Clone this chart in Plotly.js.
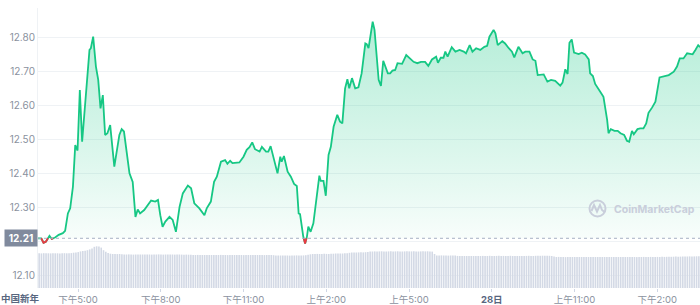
<!DOCTYPE html>
<html>
<head>
<meta charset="utf-8">
<script src="https://cdn.plot.ly/plotly-3.0.1.min.js"></script>
<style>
  html, body { margin: 0; padding: 0; background: #ffffff; }
  #chart { width: 700px; height: 305px; }
</style>
</head>
<body>
<div id="chart"></div>
<script>
// ---- data (minutes since the start of the 24h window) ----
const minutes = [0,7,12,17,25,30,38,45,54,59,65,70,76,81,86,91,96,104,112,115,120,126,131,136,141,146,151,157,166,177,182,187,199,206,212,217,222,231,246,255,261,266,271,277,286,293,300,308,315,326,333,340,351,362,367,376,383,389,398,407,412,418,423,438,447,454,460,466,472,482,487,496,501,506,512,521,527,530,535,543,550,557,563,567,570,577,581,585,588,593,599,603,612,615,621,626,632,637,643,651,657,662,668,673,677,683,690,697,704,712,715,719,728,732,741,746,751,761,766,771,777,782,792,801,808,817,825,833,842,849,857,866,870,876,882,886,891,900,908,917,926,931,939,945,953,962,971,977,982,991,995,1000,1010,1016,1024,1031,1036,1045,1054,1060,1069,1076,1082,1087,1100,1108,1116,1125,1136,1141,1147,1152,1156,1161,1166,1176,1183,1190,1198,1201,1207,1212,1223,1230,1238,1241,1246,1254,1261,1267,1275,1281,1286,1292,1296,1304,1310,1317,1323,1328,1336,1343,1352,1361,1372,1383,1390,1396,1404,1412,1419,1424,1430,1436,1440];

const price = [12.208,12.208,12.195,12.198,12.215,12.206,12.211,12.218,12.223,12.230,
12.281,12.296,12.360,12.482,12.466,12.644,12.492,12.615,12.762,12.767,
12.801,12.713,12.674,12.590,12.629,12.512,12.517,12.541,12.419,12.512,
12.529,12.522,12.399,12.374,12.271,12.293,12.281,12.291,12.319,12.316,
12.321,12.276,12.242,12.257,12.271,12.262,12.227,12.301,12.340,12.363,
12.355,12.311,12.296,12.276,12.296,12.316,12.374,12.389,12.433,12.438,
12.427,12.436,12.429,12.431,12.448,12.468,12.476,12.490,12.470,12.463,
12.477,12.463,12.463,12.479,12.443,12.399,12.448,12.433,12.450,12.404,
12.389,12.368,12.362,12.281,12.279,12.213,12.193,12.213,12.242,12.227,
12.252,12.301,12.392,12.377,12.377,12.333,12.453,12.477,12.536,12.571,
12.551,12.546,12.649,12.676,12.649,12.679,12.649,12.652,12.693,12.781,
12.779,12.767,12.845,12.821,12.674,12.656,12.730,12.693,12.693,12.701,
12.703,12.723,12.721,12.747,12.739,12.727,12.723,12.727,12.727,12.715,
12.734,12.742,12.724,12.739,12.739,12.757,12.742,12.770,12.757,12.762,
12.757,12.752,12.776,12.757,12.767,12.762,12.771,12.774,12.801,12.821,
12.811,12.776,12.788,12.781,12.767,12.757,12.740,12.771,12.752,12.757,
12.757,12.734,12.730,12.688,12.690,12.669,12.674,12.671,12.657,12.666,
12.705,12.691,12.783,12.793,12.754,12.750,12.754,12.749,12.734,12.693,
12.685,12.662,12.639,12.624,12.556,12.517,12.529,12.524,12.524,12.517,
12.512,12.495,12.492,12.524,12.514,12.529,12.531,12.531,12.546,12.577,
12.593,12.610,12.681,12.685,12.688,12.698,12.713,12.737,12.737,12.752,
12.749,12.749,12.762,12.776,12.770];

const openPrice = 12.208;   // reference (open) price, shown as 12.21

// volume per 5-minute interval (millions)
const volume = [
34.7,34.6,34.8,34.7,34.7,34.6,34.8,34.7,34.7,34.6,34.7,34.8,34.7,34.7,34.9,35.3,35.6,35.9,36.6,37.0,37.3,37.8,38.6,39.4,
41.2,41.7,41.6,40.4,37.8,36.2,35.1,34.3,34.0,34.1,33.9,34.0,33.8,33.6,33.5,33.6,33.5,33.4,33.5,33.6,33.5,33.5,33.4,33.5,
33.5,33.4,33.5,33.5,33.6,33.5,33.4,33.5,33.5,33.4,33.5,33.4,33.5,33.5,33.4,33.3,33.4,33.3,33.2,33.1,33.0,33.1,33.0,33.0,
33.0,33.1,33.0,33.0,32.9,33.0,33.0,33.1,33.0,33.0,32.9,33.0,33.0,33.0,33.1,33.0,33.0,32.9,33.0,33.0,33.0,33.1,33.0,33.0,
33.0,33.0,32.9,33.0,33.0,33.0,32.8,32.6,32.5,32.5,32.6,32.5,32.5,32.4,32.5,32.5,32.6,32.5,32.5,32.6,32.8,33.3,33.7,34.0,
34.0,34.1,34.0,34.0,34.2,34.1,34.0,34.2,34.3,34.5,34.6,34.5,34.5,34.7,34.8,35.2,35.5,35.6,35.5,35.6,35.7,35.6,35.8,36.1,
36.4,36.5,36.6,36.5,36.6,36.7,36.6,36.5,36.6,36.7,36.6,36.6,36.7,36.6,36.5,36.6,36.7,36.6,36.6,36.7,36.6,36.5,36.6,36.7,
36.6,36.7,36.6,36.4,34.0,32.6,32.5,32.6,32.5,32.5,32.4,32.5,32.5,32.4,32.1,32.0,32.1,32.0,32.0,32.1,32.0,32.0,32.1,32.0,
32.0,32.1,32.0,32.0,32.2,32.1,32.0,32.1,32.2,32.0,32.1,32.0,32.1,32.2,32.0,32.1,32.0,32.0,32.1,32.0,32.1,32.2,32.1,32.0,
32.2,32.3,32.2,32.3,32.2,32.3,32.2,32.0,31.4,31.0,31.1,31.0,31.0,30.9,31.0,31.1,31.0,31.0,30.9,31.0,31.0,31.1,31.0,31.0,
31.0,30.9,31.0,31.0,31.1,31.0,31.0,30.9,31.0,31.0,31.1,31.0,31.0,31.0,30.9,31.0,31.0,31.1,31.0,31.0,30.9,31.0,31.0,31.1,
31.0,31.0,31.1,31.0,31.0,31.1,31.0,31.2,31.1,31.2,31.3,31.2,31.3,31.4,31.3,31.4,31.5,31.4,31.5,31.6,31.5,31.6,31.7,31.8];

const tickMinutes = [87,267,447,627,807,987,1167,1347];
const tickLabels = ['下午5:00','下午8:00','下午11:00','上午2:00','上午5:00','<b><span style="color:#58667e">28日</span></b>','上午11:00','下午2:00'];
const yTicks = [12.1,12.2,12.3,12.4,12.5,12.6,12.7,12.8];
const yTickLabels = ['12.10','','12.30','12.40','12.50','12.60','12.70','12.80'];
const dayLabel = '中国新年';

// ---- derived traces ----
const volX = volume.map((v,i) => i*5 + 2.5);

// red segments where the price is under the open price
const redX = [], redY = [];
for (let i = 0; i < price.length; i++) {
  const below = price[i] < openPrice;
  if (i > 0) {
    const prevBelow = price[i-1] < openPrice;
    if (below !== prevBelow) {
      const t = (openPrice - price[i-1]) / (price[i] - price[i-1]);
      const cx = minutes[i-1] + t*(minutes[i]-minutes[i-1]);
      redX.push(cx); redY.push(openPrice);
      if (!below) { redX.push(null); redY.push(null); }
    }
  }
  if (below) { redX.push(minutes[i]); redY.push(price[i]); }
}

const FONT = 'Inter, "Noto Sans CJK SC", "Noto Sans", sans-serif';
const GREEN = '#16c784';

const traces = [
  { type:'bar', x: volX, y: volume, yaxis:'y2', marker:{color:'#d3d9e5', line:{width:0}},
    hoverinfo:'skip', showlegend:false },
  { type:'scatter', mode:'lines', x: minutes, y: minutes.map(() => openPrice),
    line:{width:0, color:'rgba(0,0,0,0)'}, hoverinfo:'skip', showlegend:false },
  { type:'scatter', mode:'lines', x: minutes, y: price, fill:'tonexty',
    fillgradient:{type:'vertical', start: openPrice, stop: 12.85,
      colorscale:[[0,'rgba(22,199,132,0.03)'],[0.35,'rgba(22,199,132,0.14)'],[1,'rgba(22,199,132,0.32)']]},
    line:{color:GREEN, width:1.8}, showlegend:false },
  { type:'scatter', mode:'lines', x: redX, y: redY, connectgaps:false,
    line:{color:'#ea3943', width:1.8}, showlegend:false }
];

// paper-coordinate helper for decorations (plot area: x 38..700, y 8..288)
const PX = px => (px - 38) / 662;
const PY = py => (288 - py) / 280;

const layout = {
  width: 700, height: 305,
  margin: {l:38, r:0, t:8, b:17, pad:0},
  paper_bgcolor:'#ffffff', plot_bgcolor:'#ffffff',
  font: {family: FONT, color:'#8a919e'},
  showlegend:false,
  bargap: 0.3,
  xaxis: {
    range:[0,1440], tickvals: tickMinutes, ticktext: tickLabels,
    ticks:'outside', ticklen:3, tickcolor:'#cfd6e4', tickwidth:1,
    showgrid:false, zeroline:false, showline:false,
    tickfont:{size:9.5, color:'#8a919e', family: FONT}
  },
  yaxis: {
    range:[12.0618, 12.8853], tickvals: yTicks, ticktext: yTickLabels,
    showgrid:true, gridcolor:'#eff2f5', gridwidth:1, zeroline:false,
    showline:true, linecolor:'#eff2f5', linewidth:1, ticks:'',
    tickfont:{size:10, color:'#8a919e', family: FONT}
  },
  yaxis2: { overlaying:'y', range:[0,280], visible:false, fixedrange:true },
  shapes: [
    { type:'line', xref:'paper', x0:0, x1:1, yref:'y', y0:openPrice, y1:openPrice,
      line:{color:'#a6b0c3', width:1, dash:'dot'} },
    { type:'circle', xref:'paper', yref:'paper', x0:PX(589.5), x1:PX(605.5), y0:PY(216.5), y1:PY(200.5),
      line:{color:'#c9cedb', width:2} },
    { type:'path', xref:'paper', yref:'paper',
      path:`M ${PX(591.5)} ${PY(211)} L ${PX(594)} ${PY(205)} L ${PX(597)} ${PY(211.5)} L ${PX(600)} ${PY(205)} L ${PX(602)} ${PY(210)} L ${PX(604.5)} ${PY(212)}`,
      line:{color:'#c9cedb', width:2} }
  ],
  annotations: [
    { xref:'paper', yref:'y', x:0, y:openPrice, xanchor:'right', yanchor:'middle',
      text:'<b>12.21</b>', showarrow:false, bgcolor:'#808a9d', borderpad:2,
      width:28, height:12, font:{size:10, color:'#ffffff', family:FONT} },
    { xref:'paper', yref:'paper', x:PX(20), y:PY(298.5), xanchor:'center', yanchor:'middle',
      text:'<b>'+dayLabel+'</b>', showarrow:false, font:{size:9.5, color:'#58667e', family:FONT} },
    { xref:'paper', yref:'paper', x:PX(612), y:PY(209), xanchor:'left', yanchor:'middle',
      text:'<b>CoinMarketCap</b>', showarrow:false, font:{size:10.5, color:'#c9cedb', family:FONT} }
  ]
};

Plotly.newPlot('chart', traces, layout, {displayModeBar:false, staticPlot:true});
</script>
</body>
</html>
